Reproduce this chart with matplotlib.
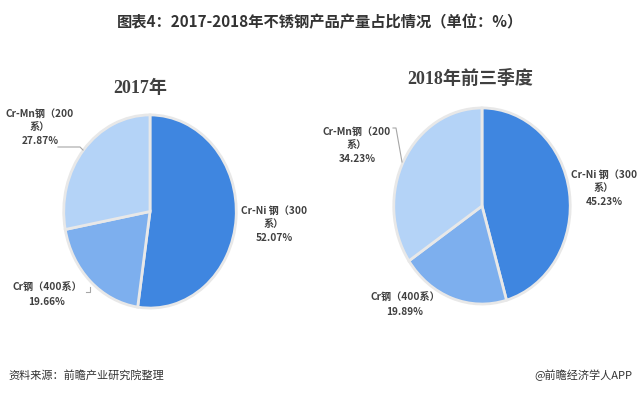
import matplotlib.pyplot as plt

plt.rcParams['font.family'] = ['Noto Sans CJK SC', 'DejaVu Sans']

W, H = 640, 393

categories = ["Cr-Ni 钢（300\n系）", "Cr钢（400系）", "Cr-Mn钢（200\n系）"]
share_2017 = [52.07, 19.66, 27.87]
share_2018 = [45.23, 19.89, 34.23]
colors = ["#3F86E0", "#7DAFEE", "#B4D3F7"]


def px(x, y):
    return x / W, 1 - y / H


fig = plt.figure(figsize=(W / 100, H / 100), dpi=100)

fig.text(*px(320, 22), "图表4：2017-2018年不锈钢产品产量占比情况（单位：%）",
         ha="center", va="center", fontsize=11, fontweight="bold", color="#333333")


def draw_pie(rect, values, title, title_xy):
    ax = fig.add_axes(rect)
    ax.pie(values, colors=colors, startangle=90, counterclock=False,
           wedgeprops=dict(edgecolor="#E8E8E8", linewidth=2))
    ax.set_aspect("auto")
    ax.set_xlim(-1.02, 1.02)
    ax.set_ylim(-1.02, 1.02)
    fig.text(*px(*title_xy), title, ha="center", va="center",
             fontsize=13, fontweight="bold", color="#404040",
             family=["Liberation Serif", "Noto Sans CJK SC"])
    return ax


draw_pie([62 / W, 1 - 310 / H, 176 / W, 197 / H], share_2017, "2017年", (140, 88))
draw_pie([392 / W, 1 - 306 / H, 180 / W, 200 / H], share_2018, "2018年前三季度", (470, 79))

lab = dict(fontsize=7.3, color="#404040", ha="center", va="center",
           linespacing=1.45, fontweight="bold")


def label(xy, name, val):
    fig.text(*px(*xy), f"{name}\n{val:.2f}%", **lab)


# 2017
label((40, 127), categories[2], share_2017[2])
label((47, 295), categories[1].replace("\n", ""), share_2017[1])
label((274, 224), categories[0], share_2017[0])
# 2018
label((357, 145), categories[2], share_2018[2])
label((405, 305), categories[1].replace("\n", ""), share_2018[1])
label((604, 188), categories[0], share_2018[0])

# leader lines
for pts in ([(58, 147), (80, 147), (83, 150)],
            [(86, 292), (90, 292), (90, 287)],
            [(393, 128), (396, 128), (402, 162)]):
    xs, ys = zip(*[px(*p) for p in pts])
    fig.add_artist(plt.Line2D(xs, ys, color="#A6A6A6", lw=0.8))

fig.text(*px(8, 375), "资料来源：前瞻产业研究院整理", ha="left", va="center",
         fontsize=8, color="#333333")
fig.text(*px(632, 375), "@前瞻经济学人APP", ha="right", va="center",
         fontsize=8, color="#333333")

fig.savefig("out.png", dpi=100)
